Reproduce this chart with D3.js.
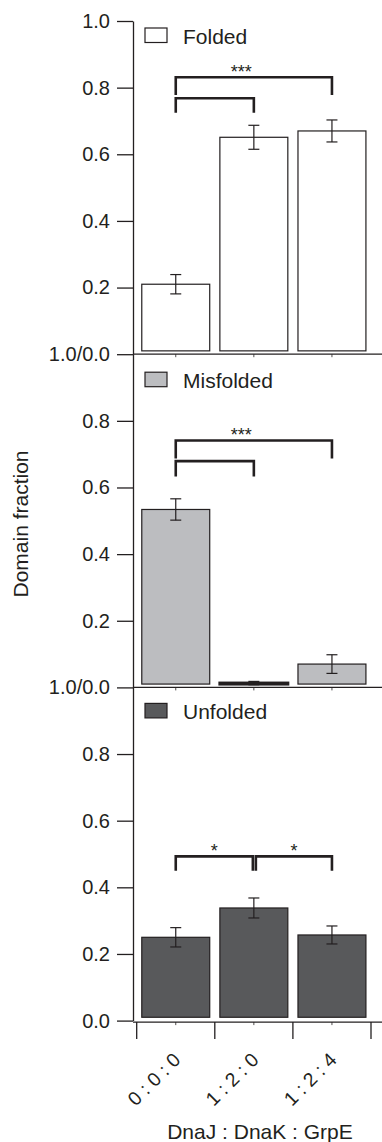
<!DOCTYPE html>
<html lang="en">
<head>
<meta charset="UTF-8">
<title>Domain fraction</title>
<script src="https://d3js.org/d3.v7.min.js"></script>
<style>
    body { margin: 0; background: #fff; }
    svg { display: block; font-family: "Liberation Sans", Arial, sans-serif; }
</style>
</head>
<body>
<div id="chart"></div>
<script>
// data
const categories = ["0 : 0 : 0", "1 : 2 : 0", "1 : 2 : 4"];
const panelNames = ["Folded", "Misfolded", "Unfolded"];
const foldedMean = [0.210, 0.651, 0.670];
const foldedErr = [0.029, 0.036, 0.033];
const misfoldedMean = [0.534, 0.013, 0.070];
const misfoldedErr = [0.032, 0.005, 0.028];
const unfoldedMean = [0.250, 0.338, 0.257];
const unfoldedErr = [0.029, 0.030, 0.027];

// significance brackets: from bar a to bar b, in data units of the panel
const foldedBrackets = [
    {a: 0, b: 2, y: 0.831, leg: 0.778, label: "***", at: 0.42},
    {a: 0, b: 1, y: 0.768, leg: 0.725, label: "", at: 0.5}
];
const misfoldedBrackets = [
    {a: 0, b: 2, y: 0.741, leg: 0.687, label: "***", at: 0.42},
    {a: 0, b: 1, y: 0.679, leg: 0.633, label: "", at: 0.5}
];
const unfoldedBrackets = [
    {a: 0, b: 1, y: 0.493, leg: 0.45, label: "*", at: 0.5},
    {a: 1, b: 2, y: 0.493, leg: 0.45, label: "*", at: 0.5}
];

const panels = [
    {name: panelNames[0], mean: foldedMean, err: foldedErr, brackets: foldedBrackets, fill: "#ffffff", legendDy: 7},
    {name: panelNames[1], mean: misfoldedMean, err: misfoldedErr, brackets: misfoldedBrackets, fill: "#bcbdc0", legendDy: 18},
    {name: panelNames[2], mean: unfoldedMean, err: unfoldedErr, brackets: unfoldedBrackets, fill: "#58595b", legendDy: 16}
];

const width = 382, height = 1142;
const ink = "#231f20";
const axisX = 133, panelTop = 21, panelH = 333.2;
const barBase = 0.01;

const svg = d3.select("#chart").append("svg")
    .attr("width", width)
    .attr("height", height);

// bars and tick boundaries
const x = d3.scaleBand().domain(categories).range([136.7, 371])
    .paddingInner(0.13).paddingOuter(0.065);
const xb = d3.scaleBand().domain(categories).range([136.7, 371]).padding(0);
const cx = d => x(d) + x.bandwidth() / 2;

panels.forEach((p, i) => {
    const y = d3.scaleLinear().domain([0, 1]).range([panelTop + (i + 1) * panelH, panelTop + i * panelH]);
    const g = svg.append("g");

    // y axis
    const ticks = i === 0 ? [0, 0.2, 0.4, 0.6, 0.8, 1.0] : [0, 0.2, 0.4, 0.6, 0.8];
    const ax = g.append("g")
        .attr("transform", `translate(${axisX},0)`)
        .call(d3.axisLeft(y).tickValues(ticks).tickSize(16).tickSizeOuter(0).tickPadding(7)
            .tickFormat(v => v === 0 ? (i < 2 ? "1.0/0.0" : "0.0") : d3.format(".1f")(v)));
    ax.selectAll("path, line").attr("stroke", ink).attr("stroke-width", 1.3);
    ax.selectAll("text").attr("fill", ink).attr("font-size", 20);
    ax.attr("font-family", null).attr("font-size", null);

    // baseline across the panel (separator / x axis)
    const baseY = i < 2 ? y(0) : y(0) + 1.5;
    g.append("line")
        .attr("x1", axisX).attr("x2", width)
        .attr("y1", baseY).attr("y2", baseY)
        .attr("stroke", ink).attr("stroke-width", 1.3);
    g.selectAll(".minor").data(categories).join("line")
        .attr("x1", d => cx(d)).attr("x2", d => cx(d))
        .attr("y1", baseY).attr("y2", baseY + 3)
        .attr("stroke", ink).attr("stroke-width", 0.8);

    // bars
    g.selectAll(".bar").data(categories).join("rect")
        .attr("x", d => x(d))
        .attr("width", x.bandwidth())
        .attr("y", (d, j) => y(p.mean[j]))
        .attr("height", (d, j) => Math.max(0.01, y(barBase) - y(p.mean[j])))
        .attr("fill", p.fill)
        .attr("stroke", ink)
        .attr("stroke-width", (d, j) => p.mean[j] - barBase < 0.01 ? 3 : 1.2);

    // error bars
    const eb = g.selectAll(".err").data(categories).join("g");
    eb.append("line")
        .attr("x1", d => cx(d)).attr("x2", d => cx(d))
        .attr("y1", (d, j) => y(p.mean[j] - p.err[j]))
        .attr("y2", (d, j) => y(p.mean[j] + p.err[j]));
    eb.append("line")
        .attr("x1", d => cx(d) - 5.5).attr("x2", d => cx(d) + 5.5)
        .attr("y1", (d, j) => y(p.mean[j] - p.err[j]))
        .attr("y2", (d, j) => y(p.mean[j] - p.err[j]));
    eb.append("line")
        .attr("x1", d => cx(d) - 5.5).attr("x2", d => cx(d) + 5.5)
        .attr("y1", (d, j) => y(p.mean[j] + p.err[j]))
        .attr("y2", (d, j) => y(p.mean[j] + p.err[j]));
    eb.selectAll("line").attr("stroke", ink).attr("stroke-width", 1.2);

    // significance brackets
    p.brackets.forEach((b, k) => {
        let x0 = cx(categories[b.a]), x1 = cx(categories[b.b]);
        if (i === 2) { if (k === 0) x1 -= 1; else x0 += 2; }
        g.append("path")
            .attr("d", `M${x0},${y(b.leg)}V${y(b.y)}H${x1}V${y(b.leg)}`)
            .attr("fill", "none").attr("stroke", ink).attr("stroke-width", 2.6);
        if (b.label) {
            g.append("text")
                .attr("x", x0 + (x1 - x0) * b.at)
                .attr("y", y(b.y) + 1)
                .attr("text-anchor", "middle")
                .attr("font-size", 18)
                .attr("fill", ink)
                .text(b.label);
        }
    });

    // legend
    const ly = y(1) + p.legendDy;
    g.append("rect")
        .attr("x", 145).attr("y", ly)
        .attr("width", 22).attr("height", 14.5)
        .attr("fill", p.fill).attr("stroke", ink).attr("stroke-width", 1.2);
    g.append("text")
        .attr("x", 183).attr("y", ly + 15.5)
        .attr("font-size", 21).attr("fill", ink)
        .text(p.name);
});

// bottom category axis
const xAxisY = panelTop + 3 * panelH + 1.5;
const bounds = categories.map(d => xb(d)).concat([xb(categories[categories.length - 1]) + xb.bandwidth()]);
svg.append("g").selectAll("line").data(bounds).join("line")
    .attr("x1", d => d).attr("x2", d => d)
    .attr("y1", xAxisY).attr("y2", xAxisY + 17)
    .attr("stroke", ink).attr("stroke-width", 1.3);

svg.append("g").selectAll("text").data(categories).join("text")
    .attr("transform", d => `translate(${cx(d) + 6},${xAxisY + 39}) rotate(-45)`)
    .attr("text-anchor", "end")
    .attr("font-size", 19.5)
    .attr("fill", ink)
    .text(d => d);

svg.append("text")
    .attr("x", 260).attr("y", 1139)
    .attr("text-anchor", "middle")
    .attr("font-size", 21).attr("fill", ink)
    .text("DnaJ : DnaK : GrpE");

svg.append("text")
    .attr("transform", "translate(28,524) rotate(-90)")
    .attr("text-anchor", "middle")
    .attr("font-size", 21).attr("fill", ink)
    .text("Domain fraction");
</script>
</body>
</html>
